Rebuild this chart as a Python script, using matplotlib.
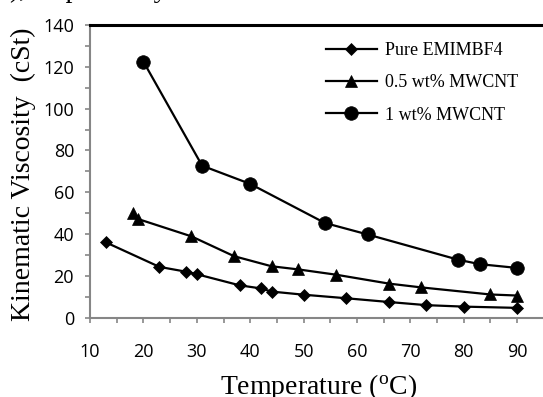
import matplotlib
matplotlib.use("Agg")
import matplotlib.pyplot as plt
from matplotlib.ticker import MultipleLocator

# Data
temp_pure = [13, 23, 28, 30, 38, 42, 44, 50, 58, 66, 73, 80, 90]
visc_pure = [36.0, 24.3, 22.0, 20.8, 15.5, 14.0, 12.5, 11.0, 9.3, 7.5, 6.0, 5.3, 4.7]

temp_05 = [18, 19, 29, 37, 44, 49, 56, 66, 72, 85, 90]
visc_05 = [50.2, 47.2, 38.9, 29.4, 24.6, 23.1, 20.6, 16.3, 14.5, 11.1, 10.6]

temp_1 = [20, 31, 40, 54, 62, 79, 83, 90]
visc_1 = [122.5, 72.7, 64.0, 45.3, 39.8, 27.7, 25.6, 23.8]

labels = ["Pure EMIMBF4", "0.5 wt% MWCNT", "1 wt% MWCNT"]

plt.rcParams['mathtext.fontset'] = 'custom'
plt.rcParams['mathtext.rm'] = 'Liberation Serif'

W, H = 543, 397
fig = plt.figure(figsize=(W / 100, H / 100), dpi=100)

left_px, right_px = 90, 90 + 90 * 5.34
bottom_px, top_px = 317.7, 25
ax = fig.add_axes([left_px / W, 1 - bottom_px / H,
                   (right_px - left_px) / W, (bottom_px - top_px) / H])

lw = 1.6
ax.plot(temp_pure, visc_pure, color='black', lw=lw, marker='D', ms=6.2,
        mew=0.5, label=labels[0])
ax.plot(temp_05, visc_05, color='black', lw=lw, marker='^', ms=9.0,
        mew=0.5, label=labels[1])
ax.plot(temp_1, visc_1, color='black', lw=lw, marker='o', ms=9.8,
        mew=0.5, label=labels[2])

ax.set_xlim(10, 100)
ax.set_ylim(0, 140)
ax.xaxis.set_major_locator(MultipleLocator(10))
ax.xaxis.set_minor_locator(MultipleLocator(5))
ax.yaxis.set_major_locator(MultipleLocator(20))
ax.yaxis.set_minor_locator(MultipleLocator(10))
ax.set_xticks(range(10, 100, 10))

gray = '#868686'
for s in ['left', 'bottom']:
    ax.spines[s].set_color(gray)
    ax.spines[s].set_linewidth(1.5)
ax.spines['top'].set_color('black')
ax.spines['top'].set_linewidth(2.2)
ax.spines['right'].set_visible(False)

ax.tick_params(axis='both', which='both', direction='out', length=3.5,
               width=1.2, color=gray)
ax.tick_params(axis='x', which='major', pad=15)
ax.tick_params(axis='y', which='major', pad=8)
for t in ax.get_xticklabels() + ax.get_yticklabels():
    t.set_fontfamily('Open Sans')
    t.set_fontsize(13)

ax.set_xlabel('Temperature ($\\mathregular{^{o}}$C)', fontfamily='Liberation Serif',
              fontsize=20)
ax.xaxis.set_label_coords((319 - left_px) / (right_px - left_px), -0.185)
ax.set_ylabel('Kinematic Viscosity  (cSt)', fontfamily='Liberation Serif',
              fontsize=20)
ax.yaxis.set_label_coords(-0.112, 0.49)

leg = ax.legend(loc='upper left', bbox_to_anchor=(326 / W, 1 - 42 / H),
                bbox_transform=fig.transFigure, frameon=False,
                prop={'family': 'Liberation Serif', 'size': 13},
                handlelength=2.8, handletextpad=0.45, labelspacing=0.85,
                borderpad=0, borderaxespad=0)

fig.text(10 / W, 1 + 3 / H, '), respectively', fontfamily='Liberation Serif',
         fontsize=20, va='baseline', ha='left')

fig.savefig('out.png', dpi=100)
